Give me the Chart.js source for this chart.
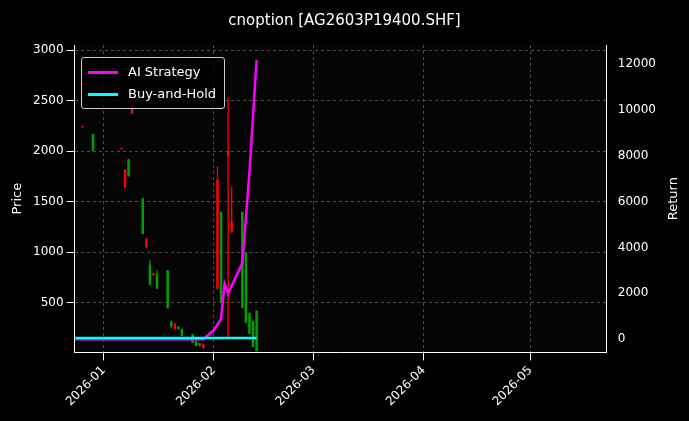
<!DOCTYPE html>
<html><head>
<script src="https://cdn.jsdelivr.net/npm/chart.js@4"></script>
<style>
body{margin:0;background:#000;font-family:"DejaVu Sans",sans-serif;}
#wrap{position:relative;width:689px;height:421px;}
#legend{position:absolute;left:81px;top:57px;border:1px solid #ccc;border-radius:3px;background:rgba(0,0,0,0.8);color:#fff;font-size:13px;padding:3px 8px 3px 6px;line-height:22px;}
#legend span{display:inline-block;width:30px;height:3px;vertical-align:middle;margin-right:10px;}
</style>
</head><body>
<div id="wrap"><canvas id="mycanvas" width="689" height="421"></canvas>
<div id="legend"><div><span style="background:#ff00ff"></span>AI Strategy</div><div><span style="background:#00ffff"></span>Buy-and-Hold</div></div></div>
<script>
// days since 2026-01-01
var candleDays = [-6, -3, 5, 6, 7, 8, 11, 12, 13, 14, 15, 18, 19, 20, 21, 22, 25, 26, 27, 28, 32, 33, 35, 36, 39, 40, 41, 42, 43];
var opens  = [2245, 2000, 2030, 1820, 1750, 2480, 1180, 1130, 680, 790, 640, 450, 270, 290, 240, 170, 100, 70, 70, 90, 1720, 500, 2000, 1300, 450, 300, 190, 60, 20];
var closes = [2235, 2170, 2020, 1640, 1920, 2370, 1530, 1050, 870, 770, 780, 820, 310, 240, 260, 240, 190, 120, 100, 50, 640, 1400, 1950, 1200, 1400, 1000, 400, 320, 420];
var highs  = [2250, 2170, 2035, 1820, 1920, 2490, 1540, 1140, 920, 795, 820, 820, 320, 295, 270, 245, 190, 125, 100, 95, 1850, 1400, 2530, 1650, 1400, 1000, 400, 320, 420];
var lows   = [2230, 2000, 2015, 1640, 1750, 2370, 1190, 1040, 670, 765, 640, 440, 250, 235, 235, 170, 100, 70, 65, 45, 630, 500, 150, 1190, 450, 300, 190, 60, 20];
var aiDays   = [-8, 28, 29, 31, 33, 34, 35, 39, 41, 43];
var aiValues = [0, 0, 130, 400, 880, 2430, 2000, 3320, 7300, 12180];
var bhDays   = [-8, 43];
var bhValues = [50, 50];
var tickDays = [0, 31, 59, 90, 120];
var tickLabels = ['2026-01', '2026-02', '2026-03', '2026-04', '2026-05'];

var colors = candleDays.map(function(d, i){ return closes[i] >= opens[i] ? '#00a000' : '#ff0000'; });
// each candle = two points + a gap so the line breaks between candles
function segs(a, b){
  var out = [];
  candleDays.forEach(function(d, i){ out.push({x: d, y: a[i]}, {x: d, y: b[i]}, {x: d, y: null}); });
  return out;
}
function segColor(ctx){ return colors[Math.floor(ctx.p0DataIndex / 3)]; }
function pts(xs, ys){ return xs.map(function(x, i){ return {x: x, y: ys[i]}; }); }

var grid = {color: 'rgba(150,150,150,0.5)', tickColor: '#fff'};
var bord = {color: '#fff', dash: [3, 3]};
var font = {size: 12, family: 'DejaVu Sans'};
new Chart(document.getElementById('mycanvas'), {
  type: 'line',
  data: {
    datasets: [
      {label: 'Buy-and-Hold', data: pts(bhDays, bhValues), borderColor: '#00ffff', borderWidth: 2.5, pointRadius: 0, yAxisID: 'y1', order: 0},
      {label: 'AI Strategy', data: pts(aiDays, aiValues), borderColor: '#ff00ff', borderWidth: 2.5, pointRadius: 0, yAxisID: 'y1', order: 1},
      {label: 'body', data: segs(opens, closes), borderWidth: 2.5, borderCapStyle: 'butt', spanGaps: false, pointRadius: 0, segment: {borderColor: segColor}, yAxisID: 'y', order: 2},
      {label: 'wick', data: segs(lows, highs), borderWidth: 1.3, borderCapStyle: 'butt', spanGaps: false, pointRadius: 0, segment: {borderColor: segColor}, yAxisID: 'y', order: 3}
    ]
  },
  options: {
    responsive: false, animation: false,
    layout: {padding: {left: 30, right: 30, top: 9, bottom: 9}},
    plugins: {
      legend: {display: false}, tooltip: {enabled: false},
      title: {display: true, text: 'cnoption [AG2603P19400.SHF]', color: '#fff', font: {size: 15, family: 'DejaVu Sans', weight: 'normal'}, padding: {top: 3, bottom: 15}}
    },
    scales: {
      x: {type: 'linear', min: -8.2, max: 141.5,
        afterBuildTicks: function(s){ s.ticks = tickDays.map(function(v){ return {value: v}; }); },
        ticks: {color: '#fff', maxRotation: 45, minRotation: 45, font: font,
          callback: function(v){ return tickLabels[tickDays.indexOf(v)]; }},
        grid: grid, border: bord},
      y: {position: 'left', min: 8, max: 3050,
        afterBuildTicks: function(s){ s.ticks = [500, 1000, 1500, 2000, 2500, 3000].map(function(v){ return {value: v}; }); },
        ticks: {color: '#fff', font: font, callback: function(v){ return String(v); }},
        grid: grid, border: bord},
      y1: {position: 'right', min: -576, max: 12841,
        afterBuildTicks: function(s){ s.ticks = [0, 2000, 4000, 6000, 8000, 10000, 12000].map(function(v){ return {value: v}; }); },
        ticks: {color: '#fff', font: font, callback: function(v){ return String(v); }},
        grid: {display: false}, border: {color: '#fff'}}
    }
  },
  plugins: [{id: 'bg',
    beforeDraw: function(c){ var x = c.ctx; x.save(); x.fillStyle = '#000'; x.fillRect(0, 0, c.width, c.height); x.fillStyle = '#050505'; var a = c.chartArea; x.fillRect(a.left, a.top, a.right - a.left, a.bottom - a.top); x.restore(); },
    afterDraw: function(c){ var x = c.ctx, a = c.chartArea, my = (a.top + a.bottom) / 2; x.save(); x.fillStyle = '#fff'; x.font = '13px DejaVu Sans'; x.textAlign = 'center';
      x.translate(21, my); x.rotate(-Math.PI / 2); x.fillText('Price', 0, 0); x.restore();
      x.save(); x.fillStyle = '#fff'; x.font = '13px DejaVu Sans'; x.textAlign = 'center'; x.translate(677, my); x.rotate(-Math.PI / 2); x.fillText('Return', 0, 0); x.restore(); }}]
});
</script>
</body></html>
